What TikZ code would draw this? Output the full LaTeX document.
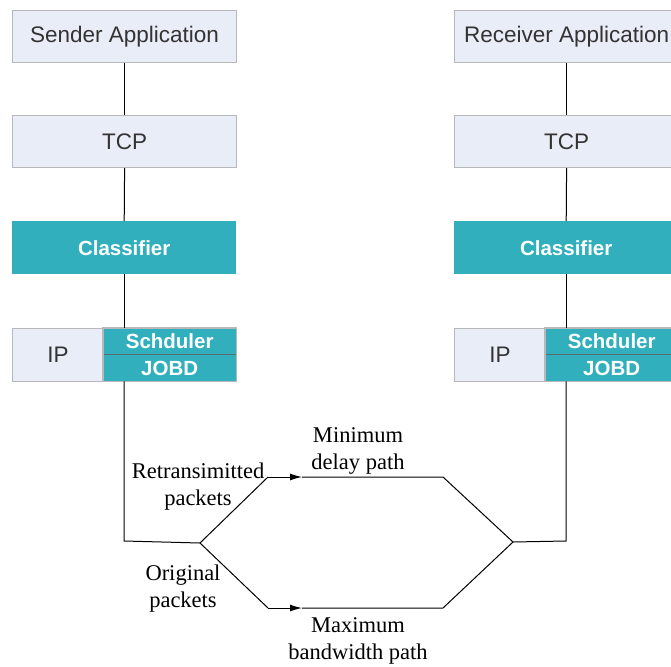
\documentclass[tikz,border=0pt]{standalone}
\usepackage{fontspec}
\setmainfont{Liberation Serif}
\setsansfont{Liberation Sans}
\usetikzlibrary{arrows.meta}
\definecolor{boxfill}{HTML}{E9EDF7}
\definecolor{boxline}{HTML}{B8B8BC}
\definecolor{teal}{HTML}{31AFBD}
\definecolor{txtgray}{HTML}{333333}
\definecolor{divline}{HTML}{5A6E72}
\tikzset{
  layer/.style={draw=boxline, line width=1.2pt, fill=boxfill, text=txtgray,
    font=\sffamily\fontsize{22.5}{26}\selectfont, inner sep=0pt, anchor=north west},
  tealbox/.style={fill=teal, text=white, font=\sffamily\bfseries\fontsize{20.5}{24}\selectfont,
    inner sep=0pt, anchor=north west},
  wire/.style={line width=1pt, black},
  pathlabel/.style={font=\fontsize{22.5}{25}\selectfont, align=center, inner sep=0pt},
  tip/.style={-{Latex[length=12pt,width=7pt]}}
}
\begin{document}
\begin{tikzpicture}[x=1pt,y=-1pt]
\useasboundingbox (0,0) rectangle (671,666);
\clip (0,0) rectangle (671,666);

% sender stack
\node[layer, minimum width=224, minimum height=52] (sapp) at (12,10) {Sender Application};
\node[layer, minimum width=224, minimum height=52] (stcp) at (12,115) {TCP};
\node[tealbox, minimum width=224, minimum height=53] (scls) at (12,221) {Classifier};
\node[layer, minimum width=91, minimum height=53] (sip) at (12,328) {IP};
\node[tealbox, minimum width=133, minimum height=26.5] (ssch) at (103,328) {Schduler};
\node[tealbox, minimum width=133, minimum height=26.5] (sjob) at (103,354.5) {JOBD};
\draw[divline, line width=1pt] (ssch.south west) -- (ssch.south east);
\draw[boxline, line width=1.2pt] (ssch.north west) rectangle (sjob.south east);

% receiver stack
\node[layer, minimum width=224, minimum height=52] (rapp) at (454,10) {Receiver Application};
\node[layer, minimum width=224, minimum height=52] (rtcp) at (454,115) {TCP};
\node[tealbox, minimum width=224, minimum height=53] (rcls) at (454,221) {Classifier};
\node[layer, minimum width=91, minimum height=53] (rip) at (454,328) {IP};
\node[tealbox, minimum width=133, minimum height=26.5] (rsch) at (545,328) {Schduler};
\node[tealbox, minimum width=133, minimum height=26.5] (rjob) at (545,354.5) {JOBD};
\draw[divline, line width=1pt] (rsch.south west) -- (rsch.south east);
\draw[boxline, line width=1.2pt] (rsch.north west) rectangle (rjob.south east);

% vertical links between layers
\draw[wire] (sapp.south) -- (stcp.north);
\draw[wire] (stcp.south) -- (scls.north);
\draw[wire] (scls.south) -- (scls.south |- ssch.north);
\draw[wire] (rapp.south) -- (rtcp.north);
\draw[wire] (rtcp.south) -- (rcls.north);
\draw[wire] (rcls.south) -- (rcls.south |- rsch.north);

% the two network paths
\coordinate (sdown) at (124,541);
\coordinate (fork) at (200,543);
\coordinate (ul) at (268,477);
\coordinate (ua) at (302,477);
\coordinate (ur) at (443,477);
\coordinate (ll) at (268,608);
\coordinate (la) at (302,608);
\coordinate (lr) at (443,608);
\coordinate (join) at (513,542);
\coordinate (rdown) at (566,541);

\draw[wire] (scls.south |- sjob.south) -- (sdown) -- (fork);
\draw[wire] (fork) -- (ul);
\draw[wire, tip] (ul) -- (ua);
\draw[wire] (ua) -- (ur) -- (join);
\draw[wire] (fork) -- (ll);
\draw[wire, tip] (ll) -- (la);
\draw[wire] (la) -- (lr) -- (join);
\draw[wire] (join) -- (rdown) -- (rcls.south |- rjob.south);

% path labels
\node[pathlabel] (lmin) at (358,451) {Minimum\\[2pt]delay path};
\node[pathlabel] (lret) at (198,487) {Retransimitted\\[2pt]packets};
\node[pathlabel] (lorg) at (183,589) {Original\\[2pt]packets};
\node[pathlabel] (lmax) at (358,641) {Maximum\\[2pt]bandwidth path};
\end{tikzpicture}
\end{document}
